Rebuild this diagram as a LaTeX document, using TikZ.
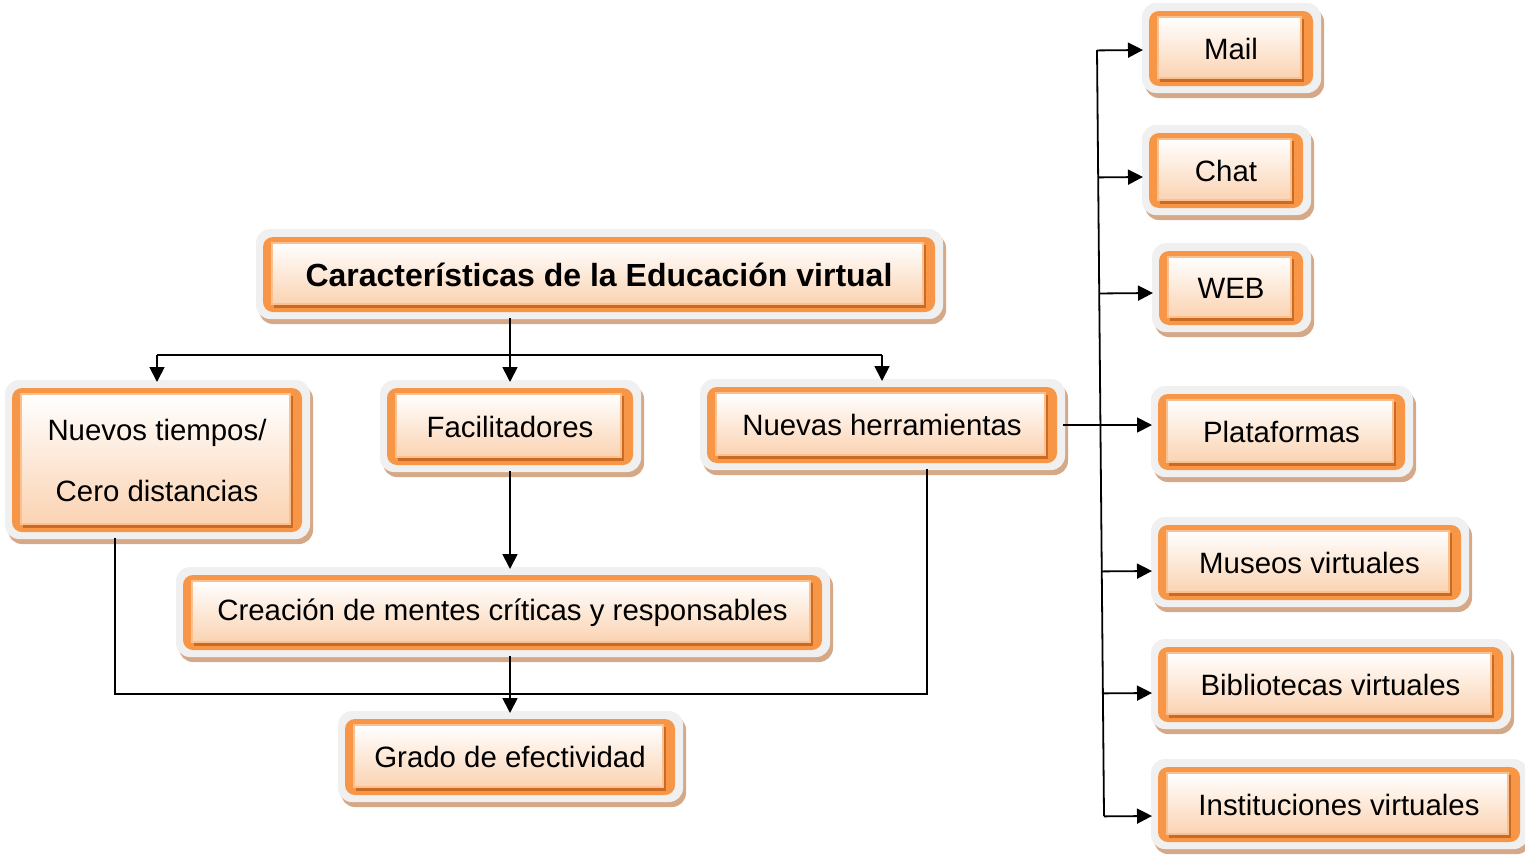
\documentclass[tikz,border=0pt]{standalone}
\usepackage{fontspec}
\setmainfont{Liberation Sans}
\usepackage{tikz}
\usetikzlibrary{positioning,arrows.meta,calc,backgrounds}

\definecolor{boxnar}{HTML}{F79646}
\definecolor{boxosc}{HTML}{CB6A22}
\definecolor{boxcla}{HTML}{FAC090}
\definecolor{boxmel}{HTML}{FBD3B2}
\definecolor{boxgris}{HTML}{F0F0F0}
\definecolor{boxtan}{HTML}{D5A888}

\begin{document}
\begin{tikzpicture}[x=1pt, y=-1pt,
  ebox/.style={inner sep=0pt, outer sep=6pt, minimum height=75pt, font=\fontsize{29.4}{35}\selectfont},
  conn/.style={line width=1.8pt},
  flecha/.style={conn, -{Triangle[length=15pt,width=15pt]}}]
\useasboundingbox (0,0) rectangle (1525,854);
% tree on the left
\node[ebox, minimum width=672pt, font=\fontsize{32}{38}\selectfont\bfseries] (titulo) at (599,274.5) {Características de la Educación virtual};
\node[ebox, minimum width=290pt, minimum height=144pt, align=center, font=\fontsize{29.4}{61}\selectfont] (nuevos) at (157,460) {Nuevos tiempos/\\Cero distancias};
\node[ebox, minimum width=246pt, minimum height=77pt] (faci) at (510,426.5) {Facilitadores};
\node[ebox, minimum width=350pt, minimum height=76pt] (herr) at (882,425) {Nuevas herramientas};
\node[ebox, minimum width=639pt] (crea) at (502.5,612.5) {Creación de mentes críticas y responsables};
\node[ebox, minimum width=330pt, minimum height=76pt] (grado) at (510,757) {Grado de efectividad};
% tools on the right
\node[ebox, minimum width=164pt] (mail) at (1231,48.5) {Mail};
\node[ebox, minimum width=154pt] (chat) at (1226,170.5) {Chat};
\node[ebox, minimum width=144pt, minimum height=74pt] (web) at (1231,288) {WEB};
\node[ebox, minimum width=247pt, minimum height=76pt] (plat) at (1281.5,432) {Plataformas};
\node[ebox, minimum width=303pt] (museos) at (1309.5,562.5) {Museos virtuales};
\node[ebox, minimum width=345pt] (biblio) at (1330.5,684.5) {Bibliotecas virtuales};
\node[ebox, minimum width=362pt] (inst) at (1339,804.5) {Instituciones virtuales};
% framed look behind every box
\begin{scope}[on background layer]
\foreach \n in {titulo,nuevos,faci,herr,crea,grado,mail,chat,web,plat,museos,biblio,inst}{
  \path ([shift={(6,6)}]\n.north west) coordinate (a) ([shift={(-6,-6)}]\n.south east) coordinate (b);
  \fill[boxtan, rounded corners=14pt] ($(a)+(-4,-3)$) rectangle ($(b)+(11,12)$);
  \fill[boxgris, rounded corners=14pt] ($(a)+(-7,-8)$) rectangle ($(b)+(8,7)$);
  \fill[boxnar, rounded corners=10pt] (a) rectangle (b);
  \fill[boxosc] ($(a)+(11,8)$) rectangle ($(b)+(-9,-4)$);
  \shade[top color=white, bottom color=boxmel, draw=boxcla, line width=1.5pt] ($(a)+(9,6)$) rectangle ($(b)+(-12,-8)$);
}
\end{scope}
% connectors
\coordinate (bus) at (0,355);
\draw[conn] (titulo.south -| faci) -- (faci |- bus);
\draw[conn] (nuevos.north |- bus) -- (herr.north |- bus);
\foreach \n in {nuevos,faci,herr} \draw[flecha] (\n.north |- bus) -- (\n.north);
\draw[flecha] (faci.south) -- (faci |- crea.north);
\draw[flecha] (crea.south -| faci) -- (faci |- grado.north);
\coordinate (esqA) at (115,694);
\coordinate (esqB) at (927,694);
\draw[conn] (nuevos.south -| esqA) -- (esqA) -- (esqB) -- (herr.south -| esqB);
\coordinate (vtop) at (1097,50);
\coordinate (vbot) at (1104,816);
\draw[conn] (vtop) -- (vbot);
\draw[flecha] (herr.east) -- (herr.east -| plat.west);
\foreach \n/\d in {mail/1.5, chat/6.5, web/5, museos/8.5, biblio/8.5, inst/11.5}{
  \path ($(\n.west)+(0,\d)$) coordinate (p);
  \draw[flecha] ($(vtop)!(p)!(vbot)$) -- (p);
}
\end{tikzpicture}
\end{document}
